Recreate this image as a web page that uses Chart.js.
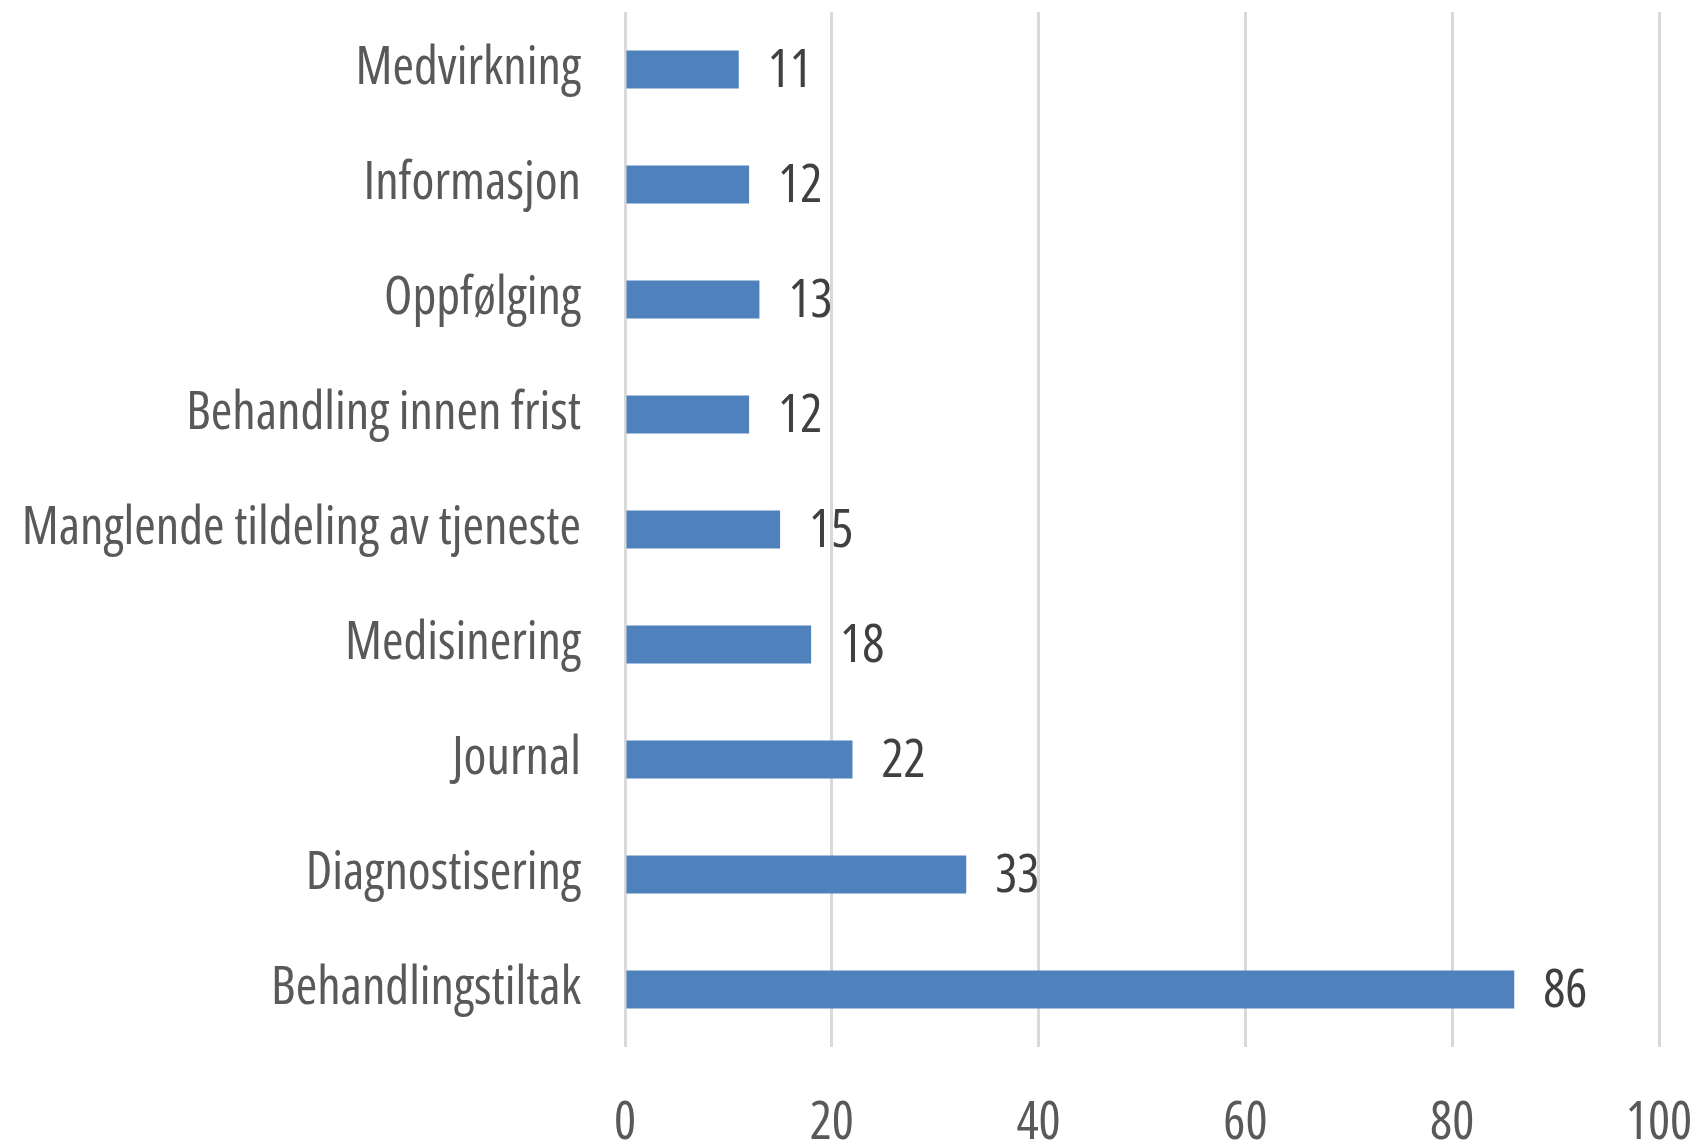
<!DOCTYPE html>
<html>
<head>
<meta charset="utf-8">
<script src="https://cdn.jsdelivr.net/npm/chart.js@4"></script>
<style>
  body { margin: 0; background: #fff; }
  #wrap { width: 1698px; height: 1146px; }
</style>
</head>
<body>
<div id="wrap"><canvas id="complaintsChart" width="1698" height="1146"></canvas></div>
<script>
// categories from top to bottom, as in the picture
var categories = ["Medvirkning", "Informasjon", "Oppfølging", "Behandling innen frist",
    "Manglende tildeling av tjeneste", "Medisinering", "Journal", "Diagnostisering", "Behandlingstiltak"];
var counts = [11, 12, 13, 12, 15, 18, 22, 33, 86];
var xTicks = [0, 20, 40, 60, 80, 100];

var FONT = "'Open Sans', sans-serif";

// simple value labels at the bar ends
var barLabels = {
    id: 'barLabels',
    afterDatasetsDraw: function(chart) {
        var ctx = chart.ctx;
        var meta = chart.getDatasetMeta(0);
        ctx.save();
        ctx.font = "normal condensed 52px " + FONT;
        ctx.fillStyle = "#404040";
        ctx.textAlign = "left";
        ctx.textBaseline = "middle";
        meta.data.forEach(function(bar, i) {
            ctx.fillText(String(counts[i]), bar.x + 29, bar.y + 3);
        });
        ctx.restore();
    }
};

var ctxBar = document.getElementById("complaintsChart");
var myBarChart = new Chart(ctxBar, {
    type: 'bar',
    data: {
        labels: categories,
        datasets: [{
            label: "Antall",
            backgroundColor: "#4f81bd",
            borderColor: "#4f81bd",
            barPercentage: 0.33,
            categoryPercentage: 1,
            data: counts,
        }],
    },
    options: {
        indexAxis: 'y',
        responsive: false,
        animation: false,
        layout: {
            padding: { top: 12, right: 39, left: 0, bottom: 0 }
        },
        scales: {
            x: {
                min: 0,
                max: 100,
                afterBuildTicks: function(scale) {
                    scale.ticks = xTicks.map(function(v) { return { value: v }; });
                },
                afterFit: function(scale) {
                    scale.height = 99;
                    scale.paddingLeft = 0;
                    scale.paddingRight = 0;
                },
                grid: {
                    color: "#d9d9d9",
                    lineWidth: 3,
                    drawTicks: false
                },
                border: { display: false },
                ticks: {
                    color: "#595959",
                    padding: 46,
                    maxRotation: 0,
                    font: { family: FONT, size: 52, weight: 'condensed' }
                }
            },
            y: {
                afterFit: function(scale) {
                    scale.width = 625;
                    scale.paddingTop = 0;
                    scale.paddingBottom = 0;
                },
                grid: { display: false, drawTicks: false },
                border: { display: false },
                ticks: {
                    color: "#595959",
                    padding: 44,
                    font: { family: FONT, size: 52, weight: 'condensed' }
                }
            },
        },
        plugins: {
            legend: { display: false },
            tooltip: { enabled: false }
        }
    },
    plugins: [barLabels]
});
</script>
</body>
</html>
